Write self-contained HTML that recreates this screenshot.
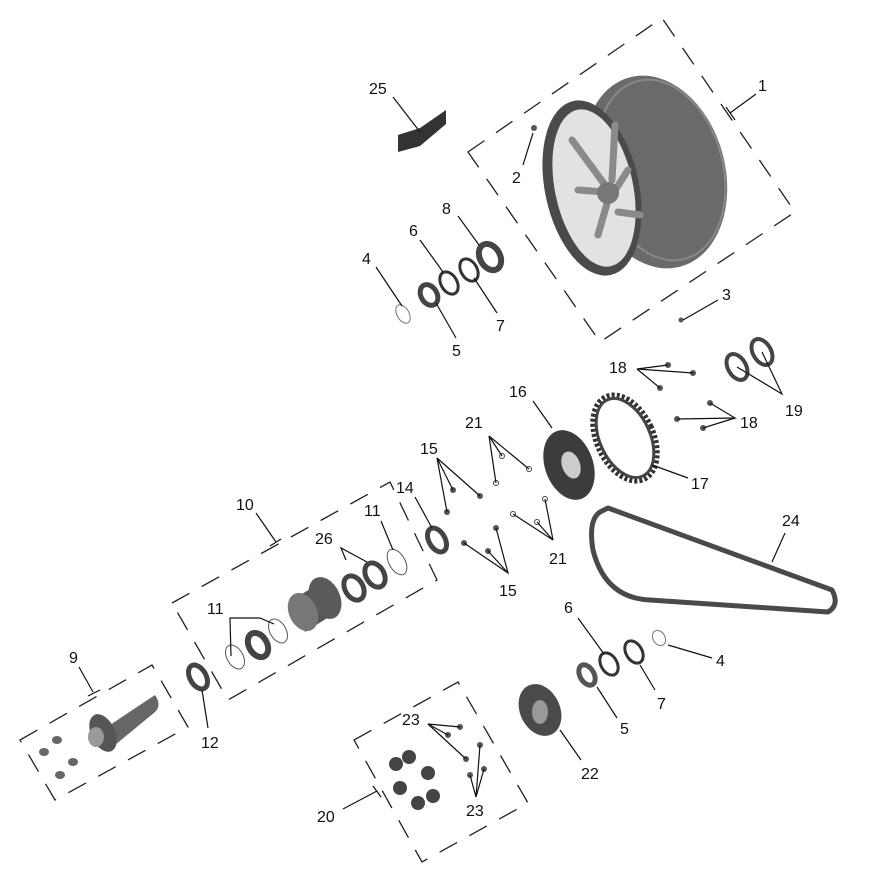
<!DOCTYPE html>
<html><head><meta charset="utf-8"><style>
html,body{margin:0;padding:0;background:#fff;}
svg{display:block;}
text{font-family:"Liberation Sans",sans-serif;font-size:16px;fill:#111;}
</style></head><body>
<svg width="882" height="896" viewBox="0 0 882 896" xmlns="http://www.w3.org/2000/svg">
<g fill="none" stroke="#222" stroke-width="1.3" stroke-dasharray="20,14">
<polygon points="468,152 662,18 795,212 600,342"/>
<polygon points="172,603 390,482 437,580 228,700"/>
<polygon points="20,740 152,665 188,727 55,800"/>
<polygon points="354,740 458,682 528,803 422,862"/>
</g>
<!-- wheel -->
<g>
<ellipse cx="655" cy="172" rx="70" ry="98" transform="rotate(-15 655 172)" fill="#6a6a6a"/>
<ellipse cx="661" cy="170" rx="62" ry="92" transform="rotate(-15 661 170)" fill="none" stroke="#888" stroke-width="2"/>
<ellipse cx="592" cy="188" rx="47" ry="89" transform="rotate(-12 592 188)" fill="#4a4a4a"/>
<ellipse cx="594" cy="188" rx="39" ry="80" transform="rotate(-12 594 188)" fill="#e2e2e2"/>
<g stroke="#8a8a8a" stroke-width="7" stroke-linecap="round">
<line x1="572" y1="140" x2="605" y2="185"/><line x1="615" y1="125" x2="612" y2="180"/>
<line x1="578" y1="190" x2="605" y2="192"/><line x1="628" y1="170" x2="612" y2="195"/>
<line x1="618" y1="212" x2="640" y2="215"/><line x1="598" y1="235" x2="608" y2="200"/>
</g>
<circle cx="608" cy="193" r="11" fill="#777"/>
</g>
<!-- 25 -->
<path d="M398,135 L420,128 L446,110 L446,124 L420,146 L398,152 Z" fill="#333"/>
<g fill="none">
<ellipse cx="403" cy="314" rx="6" ry="10" stroke="#777" stroke-width="1" transform="rotate(-30 403 314)"/>
<ellipse cx="429" cy="295" rx="8" ry="11" stroke="#444" stroke-width="5" transform="rotate(-30 429 295)"/>
<ellipse cx="449" cy="283" rx="8" ry="12" stroke="#333" stroke-width="3" transform="rotate(-30 449 283)"/>
<ellipse cx="469" cy="270" rx="8" ry="12" stroke="#333" stroke-width="3" transform="rotate(-30 469 270)"/>
<ellipse cx="490" cy="257" rx="10" ry="14" stroke="#444" stroke-width="6" transform="rotate(-30 490 257)"/>
<ellipse cx="737" cy="367" rx="9" ry="14" stroke="#444" stroke-width="4" transform="rotate(-30 737 367)"/>
<ellipse cx="762" cy="352" rx="9" ry="14" stroke="#444" stroke-width="4" transform="rotate(-30 762 352)"/>
<ellipse cx="437" cy="540" rx="8" ry="13" stroke="#444" stroke-width="5" transform="rotate(-30 437 540)"/>
<ellipse cx="397" cy="562" rx="8" ry="14" stroke="#555" stroke-width="1" transform="rotate(-30 397 562)"/>
<ellipse cx="354" cy="588" rx="9" ry="13" stroke="#444" stroke-width="5" transform="rotate(-30 354 588)"/>
<ellipse cx="375" cy="575" rx="9" ry="13" stroke="#444" stroke-width="5" transform="rotate(-30 375 575)"/>
<ellipse cx="278" cy="631" rx="8" ry="13" stroke="#555" stroke-width="1" transform="rotate(-30 278 631)"/>
<ellipse cx="235" cy="657" rx="8" ry="13" stroke="#555" stroke-width="1" transform="rotate(-30 235 657)"/>
<ellipse cx="258" cy="645" rx="9" ry="13" stroke="#444" stroke-width="6" transform="rotate(-30 258 645)"/>
<ellipse cx="198" cy="677" rx="8" ry="13" stroke="#444" stroke-width="5" transform="rotate(-30 198 677)"/>
<ellipse cx="587" cy="675" rx="7" ry="11" stroke="#555" stroke-width="5" transform="rotate(-30 587 675)"/>
<ellipse cx="609" cy="664" rx="8" ry="12" stroke="#333" stroke-width="3" transform="rotate(-30 609 664)"/>
<ellipse cx="634" cy="652" rx="8" ry="12" stroke="#333" stroke-width="3" transform="rotate(-30 634 652)"/>
<ellipse cx="659" cy="638" rx="6" ry="8" stroke="#777" stroke-width="1" transform="rotate(-30 659 638)"/>
</g>
<ellipse cx="625" cy="438" rx="28" ry="45" transform="rotate(-25 625 438)" fill="none" stroke="#333" stroke-width="6" stroke-dasharray="3,2"/>
<ellipse cx="625" cy="438" rx="25" ry="42" transform="rotate(-25 625 438)" fill="none" stroke="#444" stroke-width="3"/>
<ellipse cx="569" cy="465" rx="24" ry="36" transform="rotate(-20 569 465)" fill="#3c3c3c"/>
<ellipse cx="571" cy="465" rx="9" ry="14" transform="rotate(-20 571 465)" fill="#ccc"/>
<path d="M292,600 L325,580 L340,610 L305,632 Z" fill="#555"/>
<ellipse cx="325" cy="598" rx="15" ry="22" transform="rotate(-25 325 598)" fill="#5a5a5a"/>
<ellipse cx="303" cy="612" rx="14" ry="20" transform="rotate(-25 303 612)" fill="#777"/>
<path d="M600,512 Q588,520 593,550 Q605,598 650,600 L828,612 Q840,605 832,590 L608,508 Z" fill="none" stroke="#4a4a4a" stroke-width="5" stroke-linejoin="round"/>
<path d="M110,725 L155,695 Q162,705 155,712 L115,745 Z" fill="#666"/>
<ellipse cx="103" cy="733" rx="12" ry="20" transform="rotate(-25 103 733)" fill="#555"/>
<ellipse cx="96" cy="737" rx="8" ry="10" fill="#999"/>
<g fill="#666"><ellipse cx="57" cy="740" rx="5" ry="4"/><ellipse cx="44" cy="752" rx="5" ry="4"/><ellipse cx="73" cy="762" rx="5" ry="4"/><ellipse cx="60" cy="775" rx="5" ry="4"/></g>
<ellipse cx="540" cy="710" rx="20" ry="27" transform="rotate(-25 540 710)" fill="#4a4a4a"/>
<ellipse cx="540" cy="712" rx="8" ry="12" fill="#999"/>
<g fill="#444"><circle cx="396" cy="764" r="7"/><circle cx="409" cy="757" r="7"/><circle cx="428" cy="773" r="7"/><circle cx="400" cy="788" r="7"/><circle cx="418" cy="803" r="7"/><circle cx="433" cy="796" r="7"/></g>
<g fill="#555">
<circle cx="534" cy="128" r="3"/><circle cx="681" cy="320" r="2.5"/>
<circle cx="668" cy="365" r="3"/><circle cx="693" cy="373" r="3"/><circle cx="660" cy="388" r="3"/>
<circle cx="677" cy="419" r="3"/><circle cx="710" cy="403" r="3"/><circle cx="703" cy="428" r="3"/>
<circle cx="453" cy="490" r="3"/><circle cx="480" cy="496" r="3"/><circle cx="447" cy="512" r="3"/>
<circle cx="464" cy="543" r="3"/><circle cx="496" cy="528" r="3"/><circle cx="488" cy="551" r="3"/>
<circle cx="460" cy="727" r="3"/><circle cx="448" cy="735" r="3"/><circle cx="466" cy="759" r="3"/>
<circle cx="480" cy="745" r="3"/><circle cx="484" cy="769" r="3"/><circle cx="470" cy="775" r="3"/>
</g>
<g fill="none" stroke="#444" stroke-width="1"><circle cx="502" cy="456" r="2.5"/><circle cx="529" cy="469" r="2.5"/><circle cx="496" cy="483" r="2.5"/><circle cx="513" cy="514" r="2.5"/><circle cx="537" cy="522" r="2.5"/><circle cx="545" cy="499" r="2.5"/></g>
<g stroke="#111" stroke-width="1.2" fill="none">
<line x1="756" y1="94" x2="730" y2="113"/><line x1="726" y1="107" x2="735" y2="120"/>
<line x1="393" y1="97" x2="420" y2="132"/>
<line x1="523" y1="165" x2="533" y2="133"/>
<line x1="718" y1="300" x2="683" y2="320"/>
<line x1="376" y1="267" x2="402" y2="306"/>
<line x1="456" y1="338" x2="436" y2="303"/>
<line x1="420" y1="240" x2="443" y2="272"/>
<line x1="497" y1="313" x2="474" y2="278"/>
<line x1="458" y1="216" x2="479" y2="245"/>
<line x1="533" y1="401" x2="552" y2="428"/>
<line x1="688" y1="478" x2="652" y2="465"/>
<polyline points="668,365 637,369 693,373"/><line x1="637" y1="369" x2="660" y2="388"/>
<polyline points="710,403 735,418 677,419"/><line x1="735" y1="418" x2="703" y2="428"/>
<polyline points="737,367 782,394 762,352"/>
<polyline points="502,456 489,436 529,469"/><line x1="489" y1="436" x2="496" y2="483"/>
<polyline points="513,514 553,540 537,522"/><line x1="553" y1="540" x2="545" y2="499"/>
<polyline points="453,490 437,458 480,496"/><line x1="437" y1="458" x2="447" y2="512"/>
<polyline points="464,543 508,573 496,528"/><line x1="508" y1="573" x2="488" y2="551"/>
<line x1="415" y1="497" x2="432" y2="528"/>
<line x1="256" y1="513" x2="276" y2="542"/><line x1="270" y1="546" x2="281" y2="539"/>
<polyline points="346,560 341,548 367,562"/>
<line x1="381" y1="521" x2="393" y2="550"/>
<polyline points="231,656 230,618 260,618 274,624"/>
<line x1="785" y1="533" x2="772" y2="562"/>
<line x1="578" y1="618" x2="604" y2="654"/>
<line x1="655" y1="690" x2="640" y2="665"/>
<line x1="617" y1="718" x2="597" y2="687"/>
<line x1="712" y1="658" x2="668" y2="645"/>
<line x1="581" y1="760" x2="560" y2="730"/>
<line x1="208" y1="728" x2="202" y2="690"/>
<line x1="79" y1="667" x2="93" y2="692"/><line x1="88" y1="696" x2="100" y2="690"/>
<polyline points="460,727 428,724 448,735"/><line x1="428" y1="724" x2="466" y2="759"/>
<polyline points="470,775 476,797 480,745"/><line x1="476" y1="797" x2="484" y2="769"/>
<line x1="343" y1="809" x2="377" y2="791"/><line x1="373" y1="786" x2="381" y2="797"/>
</g>
<text x="758" y="91">1</text><text x="512" y="183">2</text><text x="722" y="300">3</text>
<text x="362" y="264">4</text><text x="452" y="356">5</text><text x="409" y="236">6</text>
<text x="496" y="331">7</text><text x="442" y="214">8</text><text x="69" y="663">9</text>
<text x="236" y="510">10</text><text x="364" y="516">11</text><text x="207" y="614">11</text>
<text x="201" y="748">12</text><text x="396" y="493">14</text><text x="420" y="454">15</text>
<text x="499" y="596">15</text><text x="509" y="397">16</text><text x="691" y="489">17</text>
<text x="609" y="373">18</text><text x="740" y="428">18</text><text x="785" y="416">19</text>
<text x="317" y="822">20</text><text x="465" y="428">21</text><text x="549" y="564">21</text>
<text x="581" y="779">22</text><text x="402" y="725">23</text><text x="466" y="816">23</text>
<text x="782" y="526">24</text><text x="369" y="94">25</text><text x="315" y="544">26</text>
<text x="564" y="613">6</text><text x="657" y="709">7</text><text x="620" y="734">5</text><text x="716" y="666">4</text>
</svg>
</body></html>
